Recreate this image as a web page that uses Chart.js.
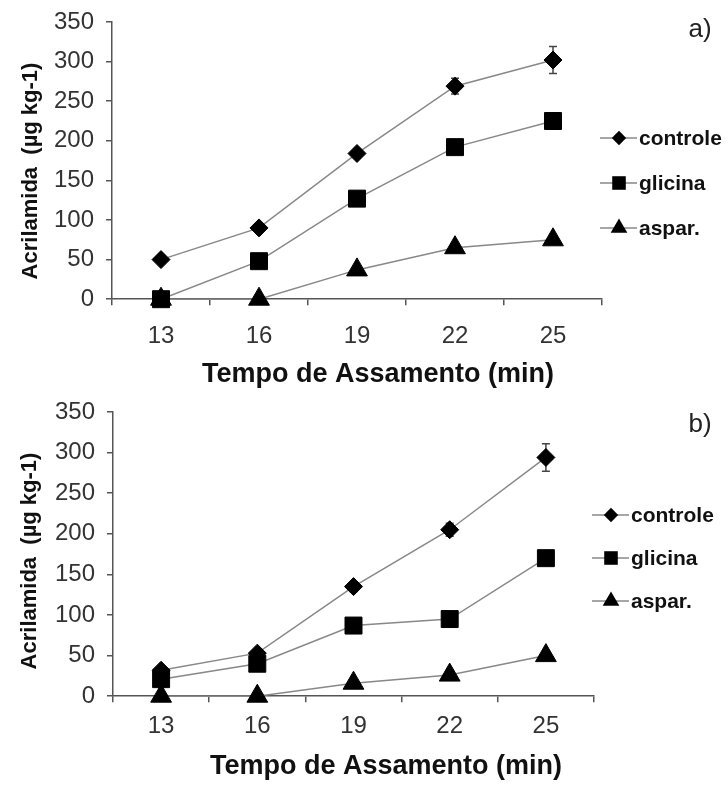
<!DOCTYPE html>
<html>
<head>
<meta charset="utf-8">
<script src="https://cdn.jsdelivr.net/npm/chart.js@4.4.1/dist/chart.umd.min.js"></script>
<style>
  body { margin: 0; background: #fff; }
  canvas { display: block; }
</style>
</head>
<body>
<canvas id="graficoA" width="728" height="395"></canvas>
<canvas id="graficoB" width="728" height="394"></canvas>
<script>
// dados
const tempos = ['13', '16', '19', '22', '25'];
const nomesSeries = ['controle', 'glicina', 'aspar.'];
const ticksY = [0, 50, 100, 150, 200, 250, 300, 350];

const controleA = [50, 90, 184, 269, 302];
const glicinaA = [0, 48, 127, 192, 225];
const asparA = [0, 0, 37, 65, 75];
const erroControleA = [3, 4, 6, 10, 17];
const erroGlicinaA = [0, 3, 5, 6, 9];
const erroAsparA = [0, 0, 3, 4, 5];

const controleB = [32, 53, 135, 205, 294];
const glicinaB = [21, 40, 87, 95, 170];
const asparB = [0, 0, 16, 26, 50];
const erroControleB = [3, 4, 6, 8, 17];
const erroGlicinaB = [2, 3, 5, 5, 8];
const erroAsparB = [0, 0, 2, 3, 4];

const tituloX = 'Tempo de Assamento (min)';
const tituloY = 'Acrilamida  (\u00b5g kg-1)';

const fonte = '"Liberation Sans", Arial, sans-serif';
const estilos = [
  { pointStyle: 'rectRot', radius: 9 },
  { pointStyle: 'rect', radius: 12 },
  { pointStyle: 'triangle', radius: 12 }
];

function desenhaMarcador(ctx, estilo, r, x, y) {
  ctx.beginPath();
  if (estilo === 'rectRot') {
    ctx.moveTo(x - r, y);
    ctx.lineTo(x, y - r);
    ctx.lineTo(x + r, y);
    ctx.lineTo(x, y + r);
  } else if (estilo === 'rect') {
    const s = r * Math.SQRT1_2;
    ctx.rect(x - s, y - s, 2 * s, 2 * s);
  } else {
    ctx.moveTo(x, y - r);
    ctx.lineTo(x + r * 0.866, y + r * 0.5);
    ctx.lineTo(x - r * 0.866, y + r * 0.5);
  }
  ctx.closePath();
  ctx.fill();
}

const pluginRotulos = {
  id: 'rotulos',
  beforeDatasetsDraw(chart) {
    // barras de erro atras dos marcadores
    const ctx = chart.ctx;
    const y = chart.scales.y;
    ctx.save();
    ctx.strokeStyle = '#444';
    ctx.lineWidth = 1.5;
    chart.data.datasets.forEach((ds, i) => {
      const meta = chart.getDatasetMeta(i);
      ds.erros.forEach((e, j) => {
        if (!e) return;
        const px = meta.data[j].x;
        const y1 = y.getPixelForValue(ds.data[j] + e);
        const y2 = y.getPixelForValue(ds.data[j] - e);
        ctx.beginPath();
        ctx.moveTo(px, y1); ctx.lineTo(px, y2);
        ctx.moveTo(px - 4, y1); ctx.lineTo(px + 4, y1);
        ctx.moveTo(px - 4, y2); ctx.lineTo(px + 4, y2);
        ctx.stroke();
      });
    });
    ctx.restore();
  },
  afterDraw(chart, args, opts) {
    const ctx = chart.ctx;
    const area = chart.chartArea;
    ctx.save();
    ctx.fillStyle = '#222';
    ctx.textBaseline = 'middle';

    // letra do painel
    ctx.font = '26px ' + fonte;
    ctx.textAlign = 'center';
    ctx.fillText(opts.painel, opts.painelX, opts.painelY);

    // titulo do eixo x
    ctx.fillStyle = '#111';
    ctx.font = 'bold 27px ' + fonte;
    ctx.fillText(tituloX, opts.tituloXx, opts.tituloXy);

    // titulo do eixo y
    ctx.save();
    ctx.translate(opts.tituloYx, opts.tituloYy);
    ctx.rotate(-Math.PI / 2);
    ctx.font = 'bold 22px ' + fonte;
    ctx.fillText(tituloY, 0, 0);
    ctx.restore();

    // legenda
    ctx.font = 'bold 21px ' + fonte;
    ctx.textAlign = 'left';
    chart.data.datasets.forEach((ds, i) => {
      const ly = area.top + opts.legendaTopo + i * opts.legendaPasso;
      ctx.strokeStyle = '#888';
      ctx.lineWidth = 1.5;
      ctx.beginPath();
      ctx.moveTo(area.right - 2, ly);
      ctx.lineTo(area.right + 35, ly);
      ctx.stroke();
      ctx.fillStyle = '#000';
      desenhaMarcador(ctx, ds.pointStyle, ds.pointRadius * 0.8, area.right + 17, ly);
      ctx.fillStyle = '#111';
      ctx.fillText(ds.label, area.right + 37, ly + 1);
    });
    ctx.restore();
  }
};

function montaSeries(valores, erros) {
  return valores.map((v, i) => ({
    label: nomesSeries[i],
    data: v,
    erros: erros[i],
    borderColor: '#888',
    borderWidth: 1.5,
    pointStyle: estilos[i].pointStyle,
    pointRadius: estilos[i].radius,
    pointHoverRadius: estilos[i].radius,
    pointBackgroundColor: '#000',
    pointBorderColor: '#000',
    pointBorderWidth: 1,
    tension: 0,
    clip: false
  }));
}

function criaGrafico(id, series, cfg) {
  new Chart(document.getElementById(id), {
    type: 'line',
    data: { labels: tempos, datasets: series },
    plugins: [pluginRotulos],
    options: {
      responsive: false,
      animation: false,
      events: [],
      layout: { padding: { top: cfg.topo, right: cfg.direita, bottom: cfg.base, left: 0 } },
      plugins: {
        legend: { display: false },
        tooltip: { enabled: false },
        rotulos: cfg.rotulos
      },
      scales: {
        x: {
          type: 'category',
          offset: true,
          grid: { offset: true, drawOnChartArea: false, tickLength: 6, color: '#555', lineWidth: 1.5 },
          border: { color: '#555', width: 1.5 },
          ticks: { color: '#333', padding: cfg.padTickX, font: { family: fonte, size: 24 } }
        },
        y: {
          min: 0,
          max: 350,
          afterBuildTicks: (s) => { s.ticks = ticksY.map(v => ({ value: v })); },
          afterFit: (s) => {
            s.width = cfg.larguraY;
            s.paddingTop = 0;
            s.paddingBottom = 0;
          },
          grid: { drawOnChartArea: false, tickLength: 6, color: '#555', lineWidth: 1.5 },
          border: { color: '#555', width: 1.5 },
          ticks: { color: '#333', padding: 12, font: { family: fonte, size: 24 } }
        }
      }
    }
  });
}

criaGrafico('graficoA',
  montaSeries([controleA, glicinaA, asparA], [erroControleA, erroGlicinaA, erroAsparA]),
  {
    topo: 22, direita: 126, base: 27, larguraY: 112, padTickX: 17,
    rotulos: {
      painel: 'a)', painelX: 700, painelY: 30,
      tituloXx: 378, tituloXy: 375, tituloYx: 31, tituloYy: 171,
      legendaTopo: 116, legendaPasso: 45
    }
  });

criaGrafico('graficoB',
  montaSeries([controleB, glicinaB, asparB], [erroControleB, erroGlicinaB, erroAsparB]),
  {
    topo: 17, direita: 134, base: 38, larguraY: 113, padTickX: 10,
    rotulos: {
      painel: 'b)', painelX: 700, painelY: 30,
      tituloXx: 386, tituloXy: 372, tituloYx: 30, tituloYy: 166,
      legendaTopo: 103, legendaPasso: 43
    }
  });
</script>
</body>
</html>
